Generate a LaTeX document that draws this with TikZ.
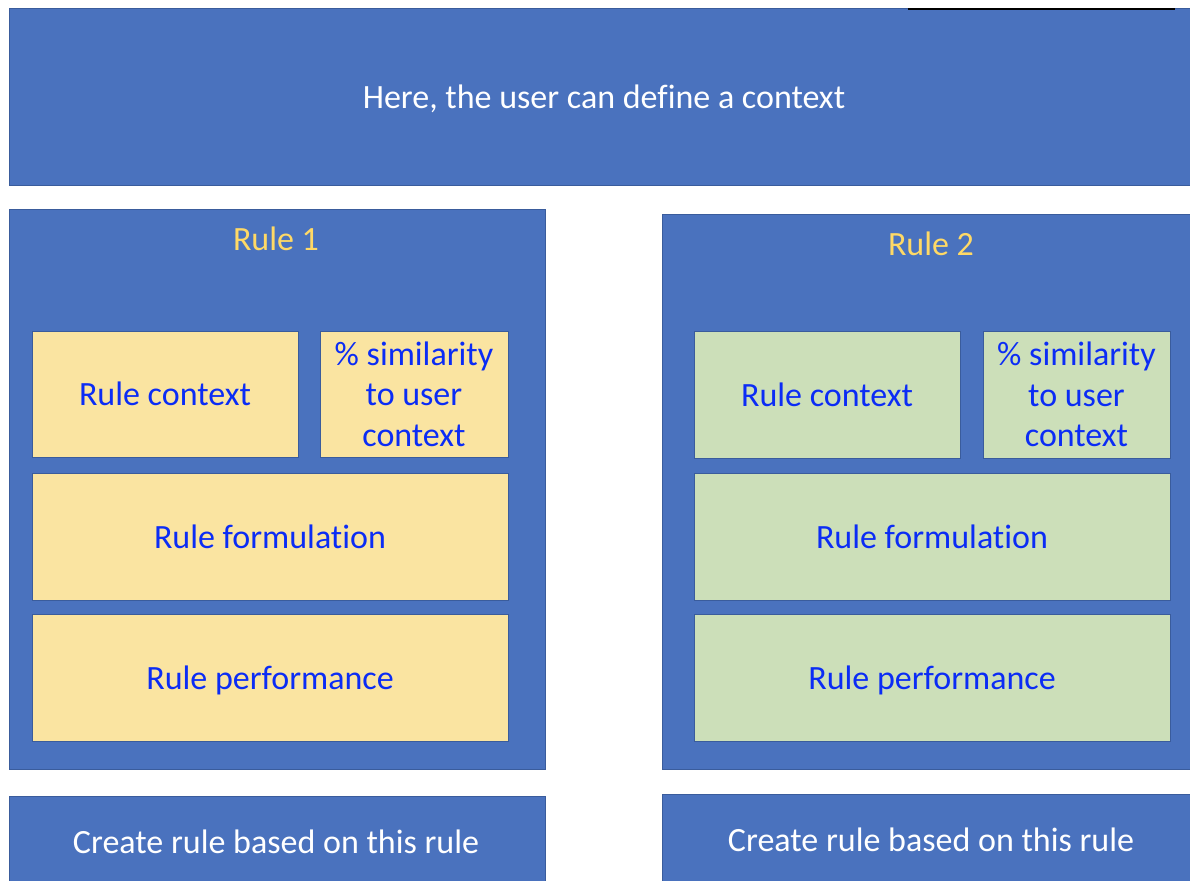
\documentclass[tikz,border=0pt]{standalone}
\usepackage{fontspec}
\setmainfont{Carlito}[Ligatures=NoCommon]
\definecolor{bluebox}{HTML}{4A72BE}
\definecolor{blueedge}{HTML}{3A5C9C}
\definecolor{yelbox}{HTML}{FAE4A1}
\definecolor{grnbox}{HTML}{CCDFB9}
\definecolor{innertext}{HTML}{0B2CF5}
\definecolor{ruletitle}{HTML}{FFD966}
\tikzset{
  outerbox/.style={draw=blueedge, fill=bluebox, line width=1pt, inner sep=0pt, outer sep=0pt, anchor=north west},
  yelcell/.style={draw=blueedge, fill=yelbox, line width=1pt, inner sep=0pt, outer sep=0pt, anchor=north west, text=innertext, font=\fontsize{34}{40.5}\selectfont, align=center, text depth=-2pt},
  grncell/.style={yelcell, fill=grnbox},
  whitetext/.style={text=white, font=\fontsize{34}{40.5}\selectfont, yshift=-2pt},
  titletext/.style={text=ruletitle, font=\fontsize{34}{40.5}\selectfont, yshift=-1pt},
}
\begin{document}
\begin{tikzpicture}[x=1pt,y=-1pt]
\useasboundingbox (0,0) rectangle (1190,880);
\clip (0,0) rectangle (1190,880);
\fill[white] (0,0) rectangle (1190,880);
% top box
\node[outerbox, minimum width=1200pt, minimum height=176pt] (top) at (9,9) {};
\draw[line width=2pt, black] (908,9) -- (1175,9);
\node[whitetext] (toptext) at (604,97) {Here, the user can define a context};
% rule 1
\node[outerbox, minimum width=536pt, minimum height=560pt] (r1) at (9,209) {};
\node[titletext] (r1t) at (276,238) {Rule 1};
\node[yelcell, minimum width=266pt, minimum height=126pt] (r1c) at (32,331) {Rule context};
\node[yelcell, minimum width=188pt, minimum height=126pt] (r1s) at (320,331) {\% similarity\\to user\\context};
\node[yelcell, minimum width=476pt, minimum height=127pt] (r1f) at (32,473) {Rule formulation};
\node[yelcell, minimum width=476pt, minimum height=127pt] (r1p) at (32,614) {Rule performance};
% rule 2
\node[outerbox, minimum width=540pt, minimum height=555pt] (r2) at (662,214) {};
\node[titletext] (r2t) at (931,243) {Rule 2};
\node[grncell, minimum width=266pt, minimum height=127pt] (r2c) at (694,331) {Rule context};
\node[grncell, minimum width=187pt, minimum height=127pt] (r2s) at (983,331) {\% similarity\\to user\\context};
\node[grncell, minimum width=476pt, minimum height=127pt] (r2f) at (694,473) {Rule formulation};
\node[grncell, minimum width=476pt, minimum height=127pt] (r2p) at (694,614) {Rule performance};
% bottom boxes
\node[outerbox, minimum width=536pt, minimum height=100pt] (b1) at (9,796) {};
\node[whitetext] (b1t) at (276,840) {Create rule based on this rule};
\node[outerbox, minimum width=540pt, minimum height=100pt] (b2) at (662,794) {};
\node[whitetext] (b2t) at (931,838) {Create rule based on this rule};
\end{tikzpicture}
\end{document}
